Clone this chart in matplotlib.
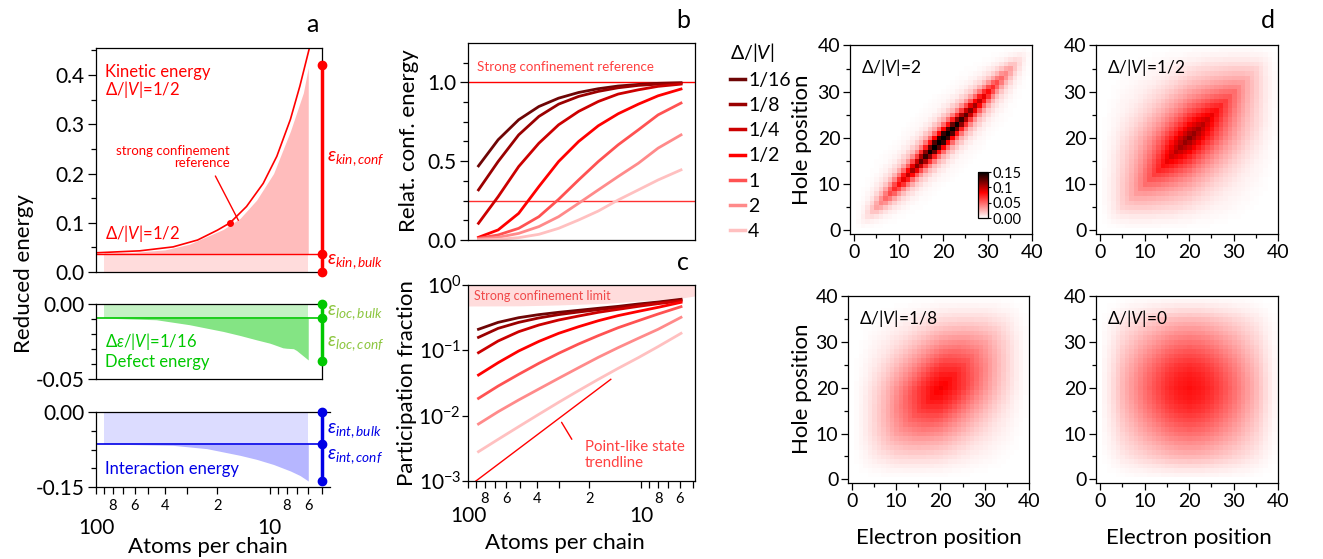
import numpy as np
import matplotlib
matplotlib.use("Agg")
import matplotlib.pyplot as plt
from matplotlib.colors import LinearSegmentedColormap
from matplotlib.lines import Line2D
from matplotlib.ticker import FixedLocator, FixedFormatter, NullLocator

# Fonts: Lato is close enough to the Myriad look, narrow face for the small notes
plt.rcParams['font.family'] = ['Lato', 'DejaVu Sans']
plt.rcParams['mathtext.fontset'] = 'custom'
plt.rcParams['mathtext.rm'] = 'Lato'
plt.rcParams['mathtext.it'] = 'Lato:italic'
plt.rcParams['mathtext.bf'] = 'Lato:bold'
plt.rcParams['axes.linewidth'] = 0.9
NARROW = ['Liberation Sans Narrow', 'Lato', 'DejaVu Sans']

# ---------------- data ----------------
# panel a: kinetic energy, Delta/|V| = 1/2
kin_ref_n = [100, 56, 36, 26, 20, 16.9, 13.6, 10.9, 9.1, 7.6, 6.7, 5.86]
kin_ref_e = [0.039, 0.043, 0.051, 0.065, 0.085, 0.1, 0.133, 0.18, 0.235, 0.31, 0.378, 0.46]
kin_n = [90, 60, 40, 29, 18.5, 14.8, 11.9, 9.5, 7.6, 6.4, 6.0]
kin_e = [0.039, 0.040, 0.045, 0.0565, 0.0865, 0.109, 0.146, 0.2, 0.286, 0.364, 0.415]
kin_bulk = 0.0375
kin_conf = 0.42
ref_dot_n = [16.9]
ref_dot_e = [0.1]

# panel a: defect energy, delta eps/|V| = 1/16
def_n = [90, 45, 29, 18.5, 14.8, 11.9, 10, 9.6, 8.4, 8.0, 7.3, 7.0, 6.7, 6.0]
def_e = [-0.0094, -0.0105, -0.0138, -0.0183, -0.021, -0.0239, -0.0261, -0.0268,
         -0.0292, -0.0295, -0.0298, -0.031, -0.0328, -0.0373]
loc_bulk = -0.0094
loc_conf = -0.0377

# panel a: interaction energy
int_n = [90, 36, 23, 14.8, 11.9, 9.5, 7.6, 6.7, 6.0]
int_e = [-0.064, -0.0667, -0.0733, -0.0867, -0.0947, -0.105, -0.118, -0.127, -0.138]
int_bulk = -0.064
int_conf = -0.138

edge_n = 5  # where the bulk/conf bars sit

# panels b, c
chain_n = [87, 67, 51, 39, 30, 23, 17.7, 13.6, 10.4, 8.0, 5.9]
ratios = ['1/16', '1/8', '1/4', '1/2', '1', '2', '4']
ratio_colors = ['#6e0505', '#9a0000', '#cc0000', '#ff0000', '#ff5252', '#ff8a8a', '#ffc0c0']

conf_16 = [0.470, 0.636, 0.763, 0.847, 0.900, 0.936, 0.960, 0.977, 0.987, 0.994, 0.998]
conf_8 = [0.318, 0.498, 0.667, 0.784, 0.862, 0.911, 0.943, 0.966, 0.981, 0.989, 0.994]
conf_4 = [0.106, 0.275, 0.466, 0.614, 0.731, 0.816, 0.879, 0.926, 0.953, 0.975, 0.989]
conf_2 = [0.017, 0.064, 0.169, 0.339, 0.498, 0.625, 0.725, 0.801, 0.862, 0.915, 0.958]
conf_1 = [0.011, 0.032, 0.074, 0.148, 0.258, 0.381, 0.498, 0.604, 0.699, 0.794, 0.869]
conf_x2 = [0.006, 0.017, 0.042, 0.085, 0.148, 0.233, 0.318, 0.403, 0.487, 0.583, 0.667]
conf_x4 = [0.0, 0.004, 0.015, 0.036, 0.074, 0.127, 0.184, 0.254, 0.318, 0.381, 0.445]
conf_ref = 1.0
conf_quarter = 0.25

pf_16 = [0.210, 0.268, 0.316, 0.352, 0.382, 0.410, 0.440, 0.471, 0.512, 0.549, 0.604]
pf_8 = [0.158, 0.217, 0.268, 0.313, 0.352, 0.386, 0.419, 0.455, 0.494, 0.537, 0.589]
pf_4 = [0.092, 0.139, 0.193, 0.244, 0.291, 0.335, 0.382, 0.424, 0.471, 0.518, 0.569]
pf_2 = [0.0419, 0.0647, 0.0977, 0.137, 0.182, 0.230, 0.284, 0.340, 0.395, 0.455, 0.543]
pf_1 = [0.0184, 0.0284, 0.0429, 0.0633, 0.090, 0.125, 0.168, 0.222, 0.284, 0.360, 0.466]
pf_x2 = [0.00745, 0.0115, 0.0174, 0.0256, 0.0373, 0.0543, 0.0782, 0.110, 0.153, 0.210, 0.320]
pf_x4 = [0.00281, 0.00434, 0.00679, 0.0105, 0.0160, 0.0242, 0.0360, 0.0530, 0.0773, 0.114, 0.182]

band_n = [100, 50, 30, 16, 10, 6, 4.9]
band_lo = [0.477, 0.48, 0.495, 0.524, 0.57, 0.625, 0.68]
trend_n = [90, 15]
trend_pf = [0.001, 0.036]

# panel d: pair maps = envelope(e) * envelope(h) * correlation(|e-h|)
sites = np.arange(41)
env_pos = [0, 2.5, 5, 7.5, 10, 12.5, 15, 17.5, 20, 22.5, 25, 27.5, 30, 32.5, 35, 37.5, 40]
env_2 = [0, 0.2, 0.42, 0.56, 0.68, 0.77, 0.85, 0.94, 1, 0.94, 0.85, 0.77, 0.68, 0.56, 0.42, 0.2, 0]
env_half = [0, 0.15, 0.35, 0.5, 0.64, 0.76, 0.87, 0.95, 1, 0.95, 0.87, 0.76, 0.64, 0.5, 0.35, 0.15, 0]
env_8 = [0, 0.11, 0.28, 0.44, 0.6, 0.73, 0.85, 0.95, 1, 0.95, 0.85, 0.73, 0.6, 0.44, 0.28, 0.11, 0]
env_0 = [0, 0.12, 0.3, 0.45, 0.6, 0.74, 0.87, 0.96, 1, 0.96, 0.87, 0.74, 0.6, 0.45, 0.3, 0.12, 0]
map_labels = ['2', '1/2', '1/8', '0']
map_peaks = [0.172, 0.115, 0.085, 0.078]
corr_d_2 = [0, 1, 2, 3, 4, 6, 8, 12, 40]
corr_2 = [1.0, 0.8, 0.5, 0.3, 0.17, 0.06, 0.02, 0.0, 0.0]
corr_d_half = [0, 2, 4, 6, 8, 10, 15, 20, 30, 40]
corr_half = [1.0, 0.85, 0.7, 0.58, 0.48, 0.4, 0.24, 0.13, 0.03, 0.0]
corr_d_8 = [0, 5, 10, 15, 20, 30, 40]
corr_8 = [1.0, 0.88, 0.68, 0.5, 0.33, 0.12, 0.04]
corr_d_0 = [0, 40]
corr_0 = [1.0, 1.0]

RED = '#ff0000'
GREEN = '#00c800'
LIME = '#8cc63f'
BLUE = '#0000e6'

W, H = 1323, 559


def box(l, t, r, b):
    return [l / W, 1 - b / H, (r - l) / W, (b - t) / H]


def at(x, y):
    return x / W, 1 - y / H


def log_x_ticks(ax, major_pad, minor_pad):
    ax.xaxis.set_major_locator(FixedLocator([100, 10]))
    ax.xaxis.set_major_formatter(FixedFormatter(['100', '10']))
    minor = [90, 80, 70, 60, 50, 40, 30, 20, 9, 8, 7, 6, 5]
    names = ['', '8', '', '6', '', '4', '', '2', '', '8', '', '6', '']
    ax.xaxis.set_minor_locator(FixedLocator(minor))
    ax.xaxis.set_minor_formatter(FixedFormatter(names))
    ax.tick_params(axis='x', which='major', direction='out', length=5, width=0.9,
                   labelsize=15, pad=major_pad)
    ax.tick_params(axis='x', which='minor', direction='out', length=5, width=0.9,
                   labelsize=10.5, pad=minor_pad)


def y_ticks(ax, major, labels, minor):
    ax.set_yticks(major)
    ax.set_yticklabels(labels)
    ax.yaxis.set_minor_locator(FixedLocator(minor))
    ax.tick_params(axis='y', which='major', direction='out', length=6, width=0.9,
                   labelsize=15, pad=2)
    ax.tick_params(axis='y', which='minor', direction='out', length=3.5, width=0.9)


fig = plt.figure(figsize=(13.23, 5.59), dpi=100)

# ---------------- panel a ----------------
ax1 = fig.add_axes(box(96, 48, 322, 272))
ax1.set_xscale('log')
ax1.set_xlim(100, edge_n)
ax1.set_ylim(0, 0.455)
ax1.fill_between(kin_n, 0, kin_bulk, color='#ffdcdc', lw=0)
ax1.fill_between(kin_n, kin_bulk, kin_e, color='#ffbcbc', lw=0)
ax1.plot(kin_ref_n, kin_ref_e, color=RED, lw=1.2)
ax1.axhline(kin_bulk, color=RED, lw=1)
ax1.plot(ref_dot_n, ref_dot_e, 'o', color=RED, ms=4)
ax1.annotate('', xy=(14.9, 0.1), xytext=(20.9, 0.2),
             arrowprops=dict(arrowstyle='-', color=RED, lw=1))
ax1.plot([edge_n, edge_n], [0, kin_conf], color=RED, lw=2.5, clip_on=False, zorder=4)
ax1.plot([edge_n] * 3, [0, kin_bulk, kin_conf], 'o', color=RED, ms=6, clip_on=False, zorder=5)
ax1.tick_params(axis='x', which='both', bottom=False, labelbottom=False)
y_ticks(ax1, [0, 0.1, 0.2, 0.3, 0.4], ['0.0', '0.1', '0.2', '0.3', '0.4'],
        [0.05, 0.15, 0.25, 0.35, 0.45])

ax2 = fig.add_axes(box(96, 304, 322, 379))
ax2.set_xscale('log')
ax2.set_xlim(100, edge_n)
ax2.set_ylim(-0.05, 0)
ax2.fill_between(def_n, 0, loc_bulk, color='#c4f2c4', lw=0)
ax2.fill_between(def_n, loc_bulk, def_e, color='#84e484', lw=0)
ax2.axhline(loc_bulk, color=GREEN, lw=1.2)
ax2.plot([edge_n, edge_n], [0, loc_conf], color=GREEN, lw=2.5, clip_on=False, zorder=4)
ax2.plot([edge_n] * 3, [0, loc_bulk, loc_conf], 'o', color=GREEN, ms=6, clip_on=False, zorder=5)
ax2.tick_params(axis='x', which='both', bottom=False, labelbottom=False)
y_ticks(ax2, [0, -0.05], ['0.00', '-0.05'], [-0.01, -0.02, -0.03, -0.04])

ax3 = fig.add_axes(box(96, 412, 330, 487))
ax3.set_xscale('log')
ax3.set_xlim(100, 4.5)
ax3.set_ylim(-0.15, 0)
ax3.fill_between(int_n, 0, int_bulk, color='#dcdcff', lw=0)
ax3.fill_between(int_n, int_bulk, int_e, color='#b6b6ff', lw=0)
ax3.plot([100, edge_n], [int_bulk, int_bulk], color=BLUE, lw=1.2)
ax3.plot([edge_n, edge_n], [0, int_conf], color=BLUE, lw=2.5, clip_on=False, zorder=4)
ax3.plot([edge_n] * 3, [0, int_bulk, int_conf], 'o', color=BLUE, ms=6, clip_on=False, zorder=5)
ax3.spines['right'].set_visible(False)
log_x_ticks(ax3, major_pad=17, minor_pad=4)
y_ticks(ax3, [0, -0.15], ['0.00', '-0.15'], [-0.0375, -0.075, -0.1125])

fig.text(*at(105, 72), 'Kinetic energy', color=RED, fontsize=12, va='center')
fig.text(*at(105, 90), 'Δ/|$V$|=1/2', color=RED, fontsize=12, va='center')
fig.text(*at(105, 233), 'Δ/|$V$|=1/2', color=RED, fontsize=12, va='center')
fig.text(*at(230, 157), 'strong confinement\nreference', color=RED, fontsize=9.5,
         family=NARROW, ha='right', va='center', linespacing=1.05)
fig.text(*at(105, 342), 'Δ$\\varepsilon$/|$V$|=1/16', color=GREEN, fontsize=12, va='center')
fig.text(*at(105, 362), 'Defect energy', color=GREEN, fontsize=12, va='center')
fig.text(*at(105, 469), 'Interaction energy', color=BLUE, fontsize=12, va='center')

eps_labels = [(159, r'$\varepsilon_{kin,conf}$', RED), (262, r'$\varepsilon_{kin,bulk}$', RED),
              (313, r'$\varepsilon_{loc,bulk}$', LIME), (344, r'$\varepsilon_{loc,conf}$', LIME),
              (431, r'$\varepsilon_{int,bulk}$', BLUE), (457, r'$\varepsilon_{int,conf}$', BLUE)]
for y, s, c in eps_labels:
    fig.text(*at(327, y), s, color=c, fontsize=14, va='center')

fig.text(*at(24, 274), 'Reduced energy', rotation=90, fontsize=16, ha='center', va='center')
fig.text(*at(208, 547), 'Atoms per chain', fontsize=16, ha='center', va='center')
fig.text(*at(312, 24), 'a', fontsize=18, ha='center', va='center')

# ---------------- panel b ----------------
conf_all = [conf_16, conf_8, conf_4, conf_2, conf_1, conf_x2, conf_x4]
pf_all = [pf_16, pf_8, pf_4, pf_2, pf_1, pf_x2, pf_x4]

axb = fig.add_axes(box(468, 43, 695, 240))
axb.set_xscale('log')
axb.set_xlim(100, 4.9)
axb.set_ylim(0, 1.25)
axb.axhline(conf_ref, color=RED, lw=1)
axb.axhline(conf_quarter, color='#ff3030', lw=1)
for vals, c in zip(conf_all, ratio_colors):
    axb.plot(chain_n, vals, color=c, lw=2)
axb.tick_params(axis='x', which='both', bottom=False, labelbottom=False)
y_ticks(axb, [0, 0.5, 1.0], ['0.0', '0.5', '1.0'], np.arange(0.125, 1.25, 0.125))
fig.text(*at(477, 67), 'Strong confinement reference', color='#ff4040', fontsize=9.6,
         family=NARROW, va='center')

handles = [Line2D([], [], color=c, lw=2.5) for c in ratio_colors]
leg = fig.legend(handles, ratios, title='Δ/|$V$|', loc='upper left',
                 bbox_to_anchor=at(720, 31), frameon=False, fontsize=14,
                 title_fontsize=14, handlelength=0.8, handletextpad=0.15,
                 labelspacing=0.42, borderpad=0, alignment='left')

fig.text(*at(409, 141), 'Relat. conf. energy', rotation=90, fontsize=16, ha='center', va='center')
fig.text(*at(683, 21), 'b', fontsize=18, ha='center', va='center')

# ---------------- panel c ----------------
axc = fig.add_axes(box(468, 285, 695, 481))
axc.set_xscale('log')
axc.set_yscale('log')
axc.set_xlim(100, 4.9)
axc.set_ylim(1e-3, 1)
axc.fill_between(band_n, band_lo, 1, color='#ffdcdc', lw=0)
for vals, c in zip(pf_all, ratio_colors):
    axc.plot(chain_n, vals, color=c, lw=2)
axc.plot(trend_n, trend_pf, color=RED, lw=1)
axc.annotate('', xy=(24.7, 0.004), xytext=(29.4, 0.0086),
             arrowprops=dict(arrowstyle='-', color=RED, lw=1))
axc.set_yticks([1e-3, 1e-2, 1e-1, 1])
axc.set_yticklabels([r'$10^{-3}$', r'$10^{-2}$', r'$10^{-1}$', r'$10^{0}$'])
axc.yaxis.set_minor_locator(NullLocator())
axc.tick_params(axis='y', which='major', direction='out', length=4, width=0.9,
                labelsize=15, pad=1)
log_x_ticks(axc, major_pad=13, minor_pad=3)
fig.text(*at(474, 296), 'Strong confinement limit', color='#f04848', fontsize=9,
         family=NARROW, va='center')
fig.text(*at(585, 455), 'Point-like state\ntrendline', color='#ff4040', fontsize=10.8,
         family=NARROW, va='center', linespacing=1.1)
fig.text(*at(407, 383), 'Participation fraction', rotation=90, fontsize=16,
         ha='center', va='center')
fig.text(*at(565, 543), 'Atoms per chain', fontsize=16, ha='center', va='center')
fig.text(*at(683, 262), 'c', fontsize=18, ha='center', va='center')

# ---------------- panel d ----------------
cmap = LinearSegmentedColormap.from_list(
    'wrk', [(0, '#ffffff'), (0.55, '#ff0000'), (1, '#000000')])
envs = [env_2, env_half, env_8, env_0]
corr_pairs = [(corr_d_2, corr_2), (corr_d_half, corr_half), (corr_d_8, corr_8), (corr_d_0, corr_0)]
boxes = [box(850, 45, 1032, 234), box(1096, 45, 1278, 234),
         box(848, 296, 1029, 483), box(1096, 296, 1278, 483)]

sep = np.abs(sites[:, None] - sites[None, :])
im0 = None
for pos, lab, peak, env_prof, (cd, cv) in zip(boxes, map_labels, map_peaks, envs, corr_pairs):
    ax = fig.add_axes(pos)
    env = np.interp(sites, env_pos, env_prof)
    grid = peak * np.outer(env, env) * np.interp(sep, cd, cv)
    im = ax.imshow(grid, origin='lower', cmap=cmap, vmin=0, vmax=0.15,
                   extent=(-0.5, 40.5, -0.5, 40.5), interpolation='nearest', aspect='auto')
    if im0 is None:
        im0 = im
    ax.set_xlim(-0.9, 40)
    ax.set_ylim(-0.8, 40.1)
    ax.set_xticks([0, 10, 20, 30, 40])
    ax.set_yticks([0, 10, 20, 30, 40])
    ax.xaxis.set_minor_locator(FixedLocator([5, 15, 25, 35]))
    ax.yaxis.set_minor_locator(FixedLocator([5, 15, 25, 35]))
    ax.tick_params(which='major', direction='out', length=5, width=0.9, labelsize=14, pad=2)
    ax.tick_params(which='minor', direction='out', length=3, width=0.9)
    ax.text(0.06, 0.88, 'Δ/|$V$|=' + lab, transform=ax.transAxes, fontsize=12.5, va='center')

cax = fig.add_axes(box(978, 172, 988, 218))
cb = fig.colorbar(im0, cax=cax, ticks=[0, 0.05, 0.1, 0.15])
cb.ax.set_yticklabels(['0.00', '0.05', '0.1', '0.15'])
cb.ax.tick_params(labelsize=10.5, length=2.5, pad=1)
cb.outline.set_linewidth(0.9)

fig.text(*at(802, 140), 'Hole position', rotation=90, fontsize=16, ha='center', va='center')
fig.text(*at(802, 389), 'Hole position', rotation=90, fontsize=16, ha='center', va='center')
fig.text(*at(939, 538), 'Electron position', fontsize=16, ha='center', va='center')
fig.text(*at(1189, 538), 'Electron position', fontsize=16, ha='center', va='center')
fig.text(*at(1268, 20), 'd', fontsize=18, ha='center', va='center')

fig.savefig('out.png', dpi=100)
